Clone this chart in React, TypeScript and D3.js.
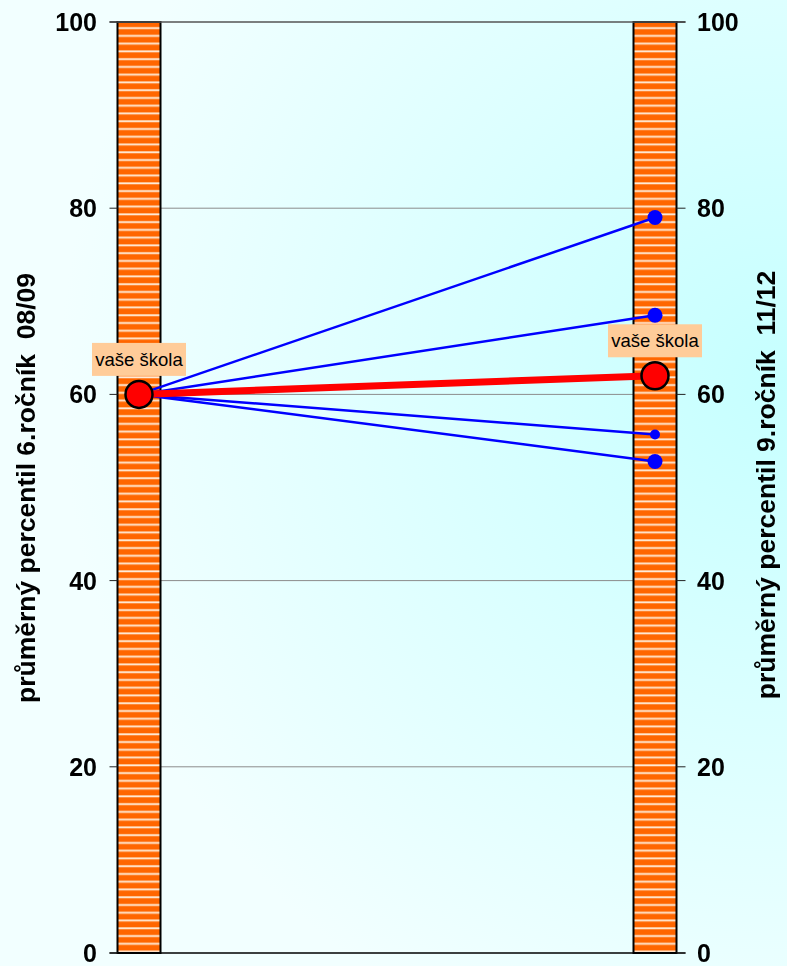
import React from 'react';
import * as d3 from 'd3';

// two measured moments
const periods = ['6.ročník 08/09', '9.ročník 11/12'];
const axisTitles = ['průměrný percentil 6.ročník  08/09', 'průměrný percentil 9.ročník  11/12'];
const yTicks = [0, 20, 40, 60, 80, 100];

// your school
const schoolLabel = 'vaše škola';
const schoolValues = [60, 62];

// other schools (start, end)
const otherStart = [60, 60, 60, 60];
const otherEnd = [79, 68.5, 55.7, 52.8];
const otherDotSize = [7.5, 7.5, 5, 7.5];

const W = 787;
const H = 966;

export default function App() {
  const y = d3.scaleLinear().domain([0, 100]).range([953, 22]);
  const x = d3.scalePoint<string>().domain(periods).range([139, 655]);
  const barW = 43;
  const x0 = x(periods[0])!;
  const x1 = x(periods[1])!;
  const left = x0 - barW / 2;
  const right = x1 + barW / 2;
  const font = 'Arial, "Liberation Sans", sans-serif';

  const line = d3.line<[number, number]>().x(d => d[0]).y(d => d[1]);

  return (
    <div style={{ position: 'fixed', left: 0, top: 0, width: W, height: H }}>
      <svg width={W} height={H} style={{ display: 'block' }}>
        <defs>
          <radialGradient id="bg" cx={780} cy={380} r={720} gradientUnits="userSpaceOnUse">
            <stop offset="0" stopColor="#c6ffff" />
            <stop offset="1" stopColor="#f2ffff" />
          </radialGradient>
          <pattern id="stripes" patternUnits="userSpaceOnUse" width={10} height={7.76} y={y(100)}>
            <rect width={10} height={7.76} fill="#ff6600" />
            <rect y={5} width={10} height={2.2} fill="#ffc08a" />
            <rect y={5.6} width={10} height={1} fill="#fff4ea" />
          </pattern>
        </defs>
        <rect width={W} height={H} fill="url(#bg)" />

        {/* gridlines */}
        {yTicks.filter(t => t > 0 && t < 100).map(t => (
          <line key={t} x1={left} x2={right} y1={y(t)} y2={y(t)} stroke="#8c8c8c" strokeWidth={1} />
        ))}

        {/* bars */}
        {periods.map(p => (
          <rect key={p} x={x(p)! - barW / 2} y={y(100)} width={barW} height={y(0) - y(100)}
            fill="url(#stripes)" stroke="#000" strokeWidth={2} />
        ))}

        <line x1={left - 8} x2={right + 9} y1={y(100)} y2={y(100)} stroke="#555" strokeWidth={1.5} />
        <line x1={left - 8} x2={right + 9} y1={y(0)} y2={y(0)} stroke="#000" strokeWidth={1.5} />

        {/* ticks and labels */}
        {yTicks.map(t => (
          <g key={t}>
            <line x1={left - 8} x2={left} y1={y(t)} y2={y(t)} stroke="#222" strokeWidth={1} />
            <line x1={right} x2={right + 9} y1={y(t)} y2={y(t)} stroke="#222" strokeWidth={1} />
            <text x={97} y={y(t) + 9} textAnchor="end" fontFamily={font} fontWeight="bold" fontSize={25}>{t}</text>
            <text x={697} y={y(t) + 9} textAnchor="start" fontFamily={font} fontWeight="bold" fontSize={25}>{t}</text>
          </g>
        ))}

        {/* axis titles */}
        <text transform={`translate(35, 488) rotate(-90)`} textAnchor="middle" fontFamily={font}
          fontWeight="bold" fontSize={26.5} style={{ whiteSpace: 'pre' }}>{axisTitles[0]}</text>
        <text transform={`translate(775, 485) rotate(-90)`} textAnchor="middle" fontFamily={font}
          fontWeight="bold" fontSize={26.5} style={{ whiteSpace: 'pre' }}>{axisTitles[1]}</text>

        {/* other schools */}
        {otherEnd.map((v, i) => (
          <path key={'l' + i} d={line([[x0, y(otherStart[i])], [x1, y(v)]])!} stroke="#0000ff" strokeWidth={2.5} fill="none" />
        ))}
        {otherEnd.map((v, i) => (
          <circle key={'c' + i} cx={x1} cy={y(v)} r={otherDotSize[i]} fill="#0000ff" />
        ))}

        {/* your school */}
        <path d={line(schoolValues.map((v, i) => [x(periods[i])!, y(v)] as [number, number]))!}
          stroke="#ff0000" strokeWidth={7} fill="none" />
        {schoolValues.map((v, i) => (
          <circle key={i} cx={x(periods[i])!} cy={y(v)} r={13.5} fill="#ff0000" stroke="#000" strokeWidth={2.5} />
        ))}
        {schoolValues.map((v, i) => (
          <g key={'lab' + i} transform={`translate(${x(periods[i])!}, ${y(v) - 35})`}>
            <rect x={-47} y={-16.5} width={94} height={33} fill="#ffcc99" />
            <text y={6.5} textAnchor="middle" fontFamily={font} fontSize={18.5} fill="#000">{schoolLabel}</text>
          </g>
        ))}
      </svg>
    </div>
  );
}
